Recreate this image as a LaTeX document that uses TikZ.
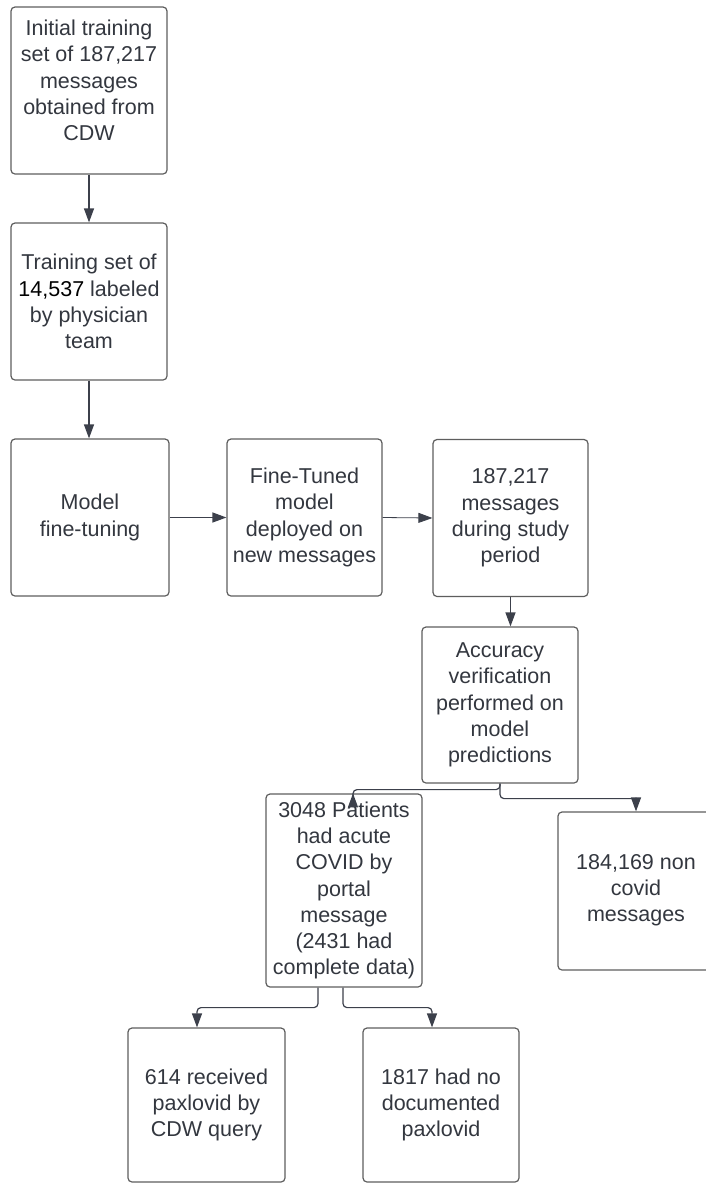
\documentclass[tikz,border=0pt]{standalone}
\usepackage{fontspec}
\setmainfont{Liberation Sans}
\usetikzlibrary{arrows.meta}
\definecolor{boxline}{HTML}{5E5E5E}
\definecolor{arrowcol}{HTML}{3C404B}
\definecolor{textcol}{HTML}{33373F}
\tikzset{
  flowbox/.style={draw=boxline, line width=1.2pt, rounded corners=4pt,
    fill=white, inner sep=0pt, align=center, text=textcol,
    font=\fontsize{21.5}{26.3}\selectfont},
  link/.style={draw=arrowcol, line width=1.2pt, rounded corners=4pt,
    -{Triangle[length=14pt,width=10pt]}},
  thinlink/.style={link, line width=0.8pt}
}
\begin{document}
\begin{tikzpicture}[x=1pt,y=-1pt]
\useasboundingbox[fill=white] (0,0) rectangle (705,1184);

% left column
\node[flowbox, minimum width=156pt, minimum height=167pt] (b1) at (89,90.5)
  {Initial training\\set of 187,217\\messages\\obtained from\\CDW\\[-6pt]\mbox{}};
\node[flowbox, minimum width=156pt, minimum height=157pt] (b2) at (89,301.5)
  {Training set of\\\textcolor{black}{14,537} labeled\\by physician\\team};

% middle row
\node[flowbox, minimum width=158pt, minimum height=157pt] (b3) at (90,517.5)
  {Model\\fine-tuning};
\node[flowbox, minimum width=155pt, minimum height=157pt] (b4) at (304.5,517.5)
  {Fine-Tuned\\model\\deployed on\\new messages};
\node[flowbox, minimum width=155pt, minimum height=157pt] (b5) at (510.5,518)
  {187,217\\messages\\during study\\period};

% verification and split
\node[flowbox, minimum width=156pt, minimum height=156pt] (b6) at (500,705)
  {Accuracy\\verification\\performed on\\model\\predictions};
\node[flowbox, minimum width=156pt, minimum height=193pt] (b7) at (344,890.5)
  {3048 Patients\\had acute\\COVID by\\portal\\message\\(2431 had\\complete data)};
\node[flowbox, minimum width=156pt, minimum height=158pt] (b8) at (636,891)
  {184,169 non\\covid\\messages\\[-20pt]\mbox{}};

% paxlovid outcome
\node[flowbox, minimum width=157pt, minimum height=154pt] (b9) at (206.5,1105)
  {614 received\\paxlovid by\\CDW query};
\node[flowbox, minimum width=156pt, minimum height=154pt] (b10) at (441,1105)
  {1817 had no\\documented\\paxlovid};

% connectors
\draw[link] (b1.south) -- (b2.north);
\draw[link] (b2.south) -- (b2.south |- b3.north);
\draw[link] (b3.east) -- (b4.west);
\draw[thinlink] (b4.east) -- (b5.west);
\draw[link] (b5.south) -- (b5.south |- b6.north);
\draw[link] (b6.south) -- ++(0,6) -| ([xshift=9pt]b7.north);
\draw[link] (b6.south) -- ++(0,15) -| (b8.north);
\draw[link] ([xshift=-26pt]b7.south) -- ++(0,20) -| ([xshift=-9.5pt]b9.north);
\draw[link] ([xshift=-1pt]b7.south) -- ++(0,20) -| ([xshift=-9pt]b10.north);
\end{tikzpicture}
\end{document}
